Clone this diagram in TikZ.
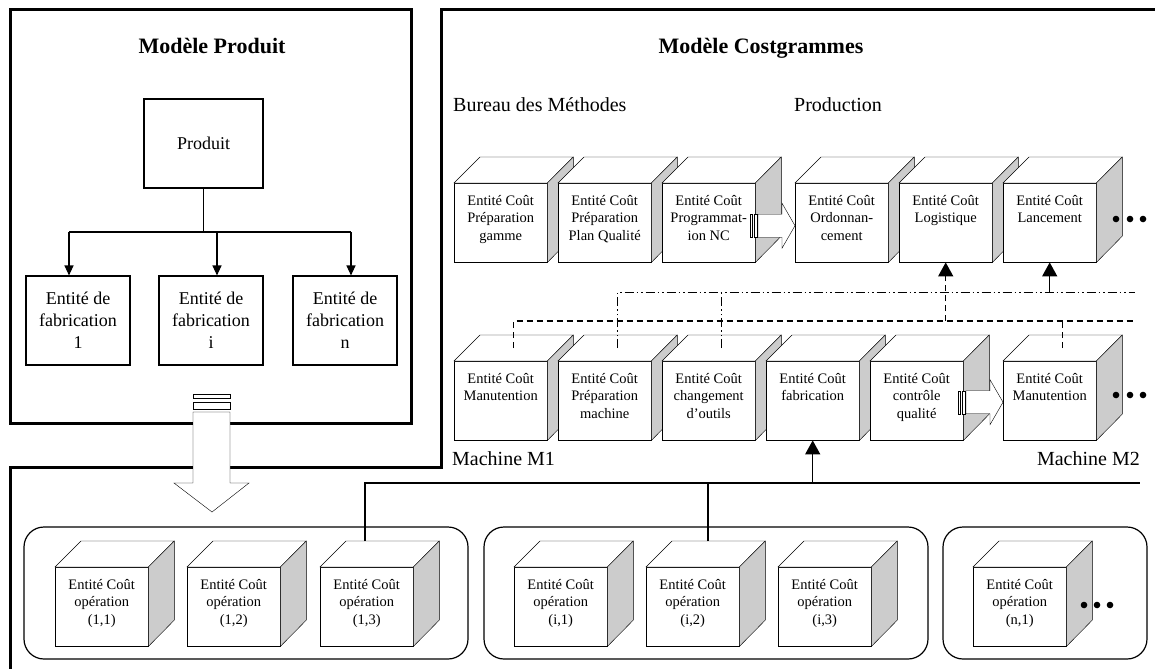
\documentclass[tikz,border=0pt]{standalone}
\usepackage{fontspec}
\setmainfont{Liberation Serif}
\usetikzlibrary{arrows.meta}

\definecolor{sidegray}{RGB}{204,204,204}

\tikzset{
  frame/.style={line width=3pt},
  mtitle/.style={inner sep=0pt, font=\fontsize{22}{26}\selectfont\bfseries},
  secname/.style={inner sep=0pt, font=\fontsize{20}{24}\selectfont},
  efbox/.style={draw, line width=1.1pt, inner sep=0pt, align=center,
    minimum width=104pt, minimum height=89pt,
    font=\fontsize{18}{22}\selectfont},
  costface/.style={draw, fill=white, anchor=north west, inner sep=0pt,
    font=\fontsize{14.5}{17.5}\selectfont},
  grp/.style={line width=1.2pt, rounded corners=20pt},
  bus/.style={line width=1.2pt},
  ddot/.style={line width=1pt,
    dash pattern=on 9pt off 3pt on 1.5pt off 3pt on 1.5pt off 3pt},
  dashln/.style={line width=1.4pt, dash pattern=on 6pt off 4pt},
  uptip/.style={line width=1.4pt, -{Triangle[length=14pt,width=15pt]}},
  downtip/.style={line width=1.1pt, -{Triangle[length=10pt,width=9pt]}},
}

% front face text, set from the top of the face
\newcommand\facetext[1]{\parbox[c][79pt][t]{93pt}{\centering\rule{0pt}{22pt}#1}}

% cost entity drawn as a cube: name, x, y (top left of front face), text
\newcommand\costcube[4]{%
  \node[costface] (#1) at (#2,#3) {\facetext{#4}};
  \draw[fill=white] (#1.north west) -- ++(26,-26) -- ++(93,0) -- (#1.north east) -- cycle;
  \draw[fill=sidegray] (#1.north east) -- ++(26,-26) -- ++(0,79) -- (#1.south east) -- cycle;
  \path (#1.north) ++(13,-13) coordinate (#1-top);
}

% hollow flow arrow with two bars, tip at #1
\newcommand\flowarrow[1]{%
  \begin{scope}[shift={#1}]
    \draw[fill=white] (-45,-11.5) rectangle (-43,11.5);
    \draw[fill=white] (-41,-11.5) rectangle (-38,11.5);
    \draw[fill=white] (-37,-11.5) -- (-13,-11.5) -- (-13,-22.5) -- (0,0)
      -- (-13,22.5) -- (-13,11.5) -- (-37,11.5) -- cycle;
  \end{scope}}

\begin{document}
\begin{tikzpicture}[x=1pt, y=-1pt, line join=miter]
  \useasboundingbox (0,0) rectangle (1155,669);

  % frames
  \draw[frame] (10,10) rectangle (411,423);
  \draw[frame] (1155,10) -- (441,10) -- (441,467) -- (10,467) -- (10,669);

  % product model
  \node[mtitle, anchor=base] (tprod) at (212,54) {Modèle Produit};
  \node[efbox, minimum width=119pt] (produit) at (203.5,143.5) {Produit};
  \node[efbox] (ef1) at (78,320.5)  {Entité de\\fabrication\\1};
  \node[efbox] (efi) at (211,320.5) {Entité de\\fabrication\\i};
  \node[efbox] (efn) at (345,320.5) {Entité de\\fabrication\\n};

  \coordinate (bar) at (0,232);
  \draw[line width=1.1pt] (produit.south) -- (produit.south |- bar);
  \draw[line width=1.1pt] ([xshift=-9pt]ef1.north |- bar) -- ([xshift=6pt]efn.north |- bar);
  \foreach \n/\d in {ef1/-9, efi/6, efn/6}
    \draw[downtip] ([xshift=\d pt]\n.north |- bar) -- ([xshift=\d pt]\n.north);

  % big arrow towards the operations
  \draw[fill=white] (193,394) rectangle (230,398);
  \draw[fill=white] (193,402) rectangle (230,409);
  \draw[fill=white] (193,412) -- (230,412) -- (230,483) -- (249,483) -- (212,512)
    -- (174,483) -- (193,483) -- cycle;

  % costgram model
  \node[mtitle, anchor=base] (tcost) at (761,54) {Modèle Costgrammes};
  \node[secname, anchor=base west] (bureau) at (453,111) {Bureau des Méthodes};
  \node[secname, anchor=base west] (prodn) at (794,111) {Production};
  \node[secname, anchor=base west] (m1) at (452,465) {Machine M1};
  \node[secname, anchor=base east] (m2) at (1140,465) {Machine M2};

  \costcube{ca1}{454}{183}{Entité Coût\\Préparation\\gamme}
  \costcube{ca2}{558}{183}{Entité Coût\\Préparation\\Plan Qualité}
  \costcube{ca3}{662}{183}{Entité Coût\\Programmat-\\ion NC}
  \costcube{ca4}{795}{183}{Entité Coût\\Ordonnan-\\cement}
  \costcube{ca5}{899}{183}{Entité Coût\\Logistique}
  \costcube{ca6}{1003}{183}{Entité Coût\\Lancement}
  \flowarrow{([yshift=-3pt]ca4.west)}
  \foreach \x in {1116,1130,1143} \fill (\x,219) circle (3.3pt);

  \costcube{cm1}{454}{361}{Entité Coût\\Manutention}
  \costcube{cm2}{558}{361}{Entité Coût\\Préparation\\machine}
  \costcube{cm3}{662}{361}{Entité Coût\\changement\\d’outils}
  \costcube{cm4}{766}{361}{Entité Coût\\fabrication}
  \costcube{cm5}{870}{361}{Entité Coût\\contrôle\\qualité}
  \costcube{cm6}{1003}{361}{Entité Coût\\Manutention}
  \flowarrow{([yshift=-1.5pt]cm6.west)}
  \foreach \x in {1116,1130,1143} \fill (\x,395) circle (3.3pt);

  % links between the two rows
  \coordinate (ddR) at (1135,292);
  \coordinate (dR) at (1135,321);
  \draw[ddot] (cm2-top) |- (ddR);
  \draw[ddot] (cm3-top) -- (cm3-top |- ddR);
  \draw[uptip] (ca6.south |- ddR) -- (ca6.south);
  \draw[dashln] (cm1-top) |- (dR);
  \draw[dashln] (cm6-top) -- (cm6-top |- dR);
  \draw[dashln, uptip, dash pattern=on 6pt off 4pt] (ca5.south |- dR) -- (ca5.south);

  % operations
  \draw[grp] (24,527) rectangle (468,659);
  \draw[grp] (484,527) rectangle (928,659);
  \draw[grp] (943,527) rectangle (1147,659);

  \costcube{co11}{55}{567}{Entité Coût\\opération\\(1,1)}
  \costcube{co12}{187}{567}{Entité Coût\\opération\\(1,2)}
  \costcube{co13}{320}{567}{Entité Coût\\opération\\(1,3)}
  \costcube{ci1}{514}{567}{Entité Coût\\opération\\(i,1)}
  \costcube{ci2}{646}{567}{Entité Coût\\opération\\(i,2)}
  \costcube{ci3}{778}{567}{Entité Coût\\opération\\(i,3)}
  \costcube{cn1}{973}{567}{Entité Coût\\opération\\(n,1)}
  \foreach \x in {1084,1097,1110} \fill (\x,605) circle (3.3pt);

  \coordinate (busR) at (1140,483);
  \coordinate (co13-drop) at ([shift={(45,-26)}]co13.north west);
  \coordinate (ci2-drop) at ([shift={(62,-26)}]ci2.north west);
  \draw[bus] (co13-drop) |- (busR);
  \draw[bus] (ci2-drop) -- (ci2-drop |- busR);
  \draw[uptip] (cm4.south |- busR) -- (cm4.south);
\end{tikzpicture}
\end{document}
